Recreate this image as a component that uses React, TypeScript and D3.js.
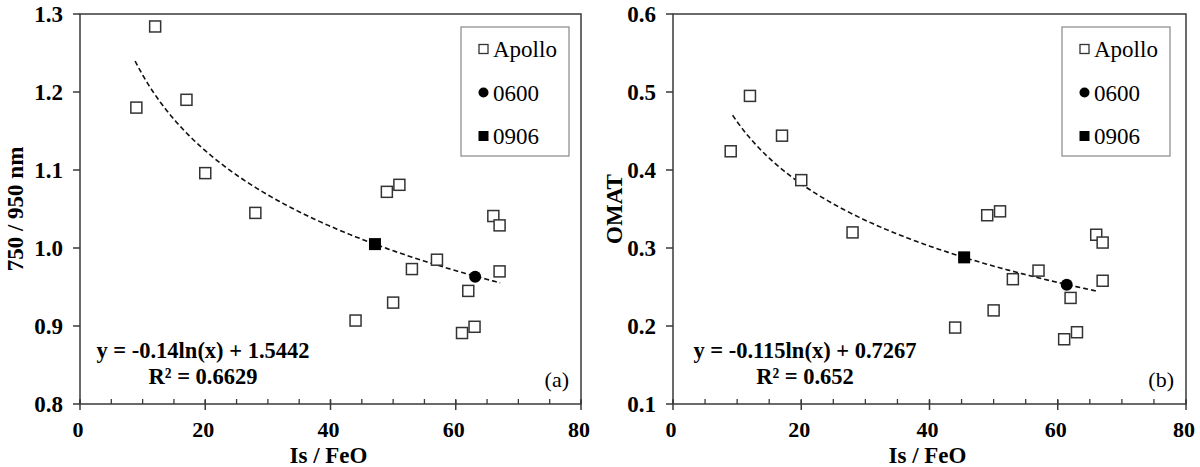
import React, { useEffect, useRef } from 'react';
import * as d3 from 'd3';

// Is/FeO of the Apollo samples (shared by both panels)
const apolloIs = [9, 12, 17, 20, 28, 44, 49, 50, 51, 53, 57, 61, 62, 63, 66, 67, 67];
const apolloRatio = [1.18, 1.284, 1.19, 1.096, 1.045, 0.907, 1.072, 0.93, 1.081, 0.973, 0.985, 0.891, 0.945, 0.899, 1.041, 1.029, 0.97];
const apolloOmat = [0.424, 0.495, 0.444, 0.387, 0.32, 0.198, 0.342, 0.22, 0.347, 0.26, 0.271, 0.183, 0.236, 0.192, 0.317, 0.307, 0.258];

// Chang'e points: [Is/FeO, value]
const site0600A = [63.1, 0.963];
const site0906A = [47.1, 1.005];
const site0600B = [61.4, 0.253];
const site0906B = [45.4, 0.288];

// log fits y = a ln(x) + b
const fitA = { a: -0.14, b: 1.5442, from: 8.8, to: 67.1 };
const fitB = { a: -0.115, b: 0.7267, from: 9.3, to: 66.1 };

const xTicks = [0, 20, 40, 60, 80];
const xMinorTicks = d3.range(0, 81, 5);
const yTicksA = [0.8, 0.9, 1.0, 1.1, 1.2, 1.3];
const yTicksB = [0.1, 0.2, 0.3, 0.4, 0.5, 0.6];

const legendLabels = ['Apollo', '0600', '0906'];

const FONT = '"Liberation Serif", "Times New Roman", serif';

const panels = [
  {
    left: 80, right: 581, yDomain: [0.8, 1.3], yTicks: yTicksA, yLabel: '750 / 950 nm',
    values: apolloRatio, p0600: site0600A, p0906: site0906A, fit: fitA,
    eq: ['y = -0.14ln(x) + 1.5442', 'R² = 0.6629'], eqX: 203, tag: '(a)',
    legendX: 461, titleX: 15,
  },
  {
    left: 673, right: 1186, yDomain: [0.1, 0.6], yTicks: yTicksB, yLabel: 'OMAT',
    values: apolloOmat, p0600: site0600B, p0906: site0906B, fit: fitB,
    eq: ['y = -0.115ln(x) + 0.7267', 'R² = 0.652'], eqX: 805, tag: '(b)',
    legendX: 1062, titleX: 614,
  },
];

const App = () => {
  const svgRef = useRef(null);

  useEffect(() => {
    const svg = d3.select(svgRef.current);
    svg.selectAll('*').remove();

    const top = 14;
    const bottom = 404;

    panels.forEach((p) => {
      const x = d3.scaleLinear().domain([0, 80]).range([p.left, p.right]);
      const y = d3.scaleLinear().domain(p.yDomain).range([bottom, top]);
      const g = svg.append('g');

      // plot frame
      g.append('rect')
        .attr('x', p.left).attr('y', top)
        .attr('width', p.right - p.left).attr('height', bottom - top)
        .attr('fill', 'none').attr('stroke', '#3a3a3a').attr('stroke-width', 1.5);

      // x minor ticks (inside)
      g.selectAll('.xminor').data(xMinorTicks).enter().append('line')
        .attr('x1', (d) => x(d)).attr('x2', (d) => x(d))
        .attr('y1', bottom - 5).attr('y2', bottom)
        .attr('stroke', '#3a3a3a').attr('stroke-width', 1.3);
      // x major ticks (cross)
      g.selectAll('.xmajor').data(xTicks).enter().append('line')
        .attr('x1', (d) => x(d)).attr('x2', (d) => x(d))
        .attr('y1', bottom - 4).attr('y2', bottom + 6)
        .attr('stroke', '#3a3a3a').attr('stroke-width', 1.5);
      g.selectAll('.xlab').data(xTicks).enter().append('text')
        .attr('x', (d) => x(d) - 2).attr('y', 437)
        .attr('text-anchor', 'middle')
        .style('font-family', FONT).style('font-weight', 'bold').style('font-size', '22px')
        .text((d) => d);

      // y ticks (outside)
      g.selectAll('.ytick').data(p.yTicks).enter().append('line')
        .attr('x1', p.left - 7).attr('x2', p.left)
        .attr('y1', (d) => y(d)).attr('y2', (d) => y(d))
        .attr('stroke', '#3a3a3a').attr('stroke-width', 1.5);
      g.selectAll('.ylab').data(p.yTicks).enter().append('text')
        .attr('x', p.left - 17).attr('y', (d) => y(d))
        .attr('dy', '0.33em').attr('text-anchor', 'end')
        .style('font-family', FONT).style('font-weight', 'bold').style('font-size', '23px')
        .text((d) => d3.format('.1f')(d));

      // axis titles
      g.append('text')
        .attr('x', (p.left + p.right) / 2 - 2).attr('y', 463)
        .attr('text-anchor', 'middle')
        .style('font-family', FONT).style('font-weight', 'bold').style('font-size', '23px')
        .text('Is / FeO');
      g.append('text')
        .attr('transform', `translate(${p.titleX},${(top + bottom) / 2}) rotate(-90)`)
        .attr('dy', '0.35em').attr('text-anchor', 'middle')
        .style('font-family', FONT).style('font-weight', 'bold').style('font-size', '23px')
        .text(p.yLabel);

      // trend line
      const fitPts = d3.range(p.fit.from, p.fit.to, 0.25).concat([p.fit.to]);
      const line = d3.line()
        .x((d) => x(d))
        .y((d) => y(p.fit.a * Math.log(d) + p.fit.b));
      g.append('path')
        .attr('d', line(fitPts))
        .attr('fill', 'none').attr('stroke', '#111')
        .attr('stroke-width', 1.6).attr('stroke-dasharray', '5,3');

      // Apollo hollow squares
      const s = 11;
      g.selectAll('.apollo').data(apolloIs).enter().append('rect')
        .attr('x', (d) => x(d) - s / 2)
        .attr('y', (d, i) => y(p.values[i]) - s / 2)
        .attr('width', s).attr('height', s)
        .attr('fill', '#fff').attr('stroke', '#333').attr('stroke-width', 1.5);

      // 0906 filled square
      g.append('rect')
        .attr('x', x(p.p0906[0]) - 6).attr('y', y(p.p0906[1]) - 6)
        .attr('width', 12).attr('height', 12).attr('fill', '#000');
      // 0600 filled circle
      g.append('circle')
        .attr('cx', x(p.p0600[0])).attr('cy', y(p.p0600[1])).attr('r', 6)
        .attr('fill', '#000');

      // equation
      p.eq.forEach((t, i) => {
        g.append('text')
          .attr('x', p.eqX).attr('y', 358 + i * 26)
          .attr('text-anchor', 'middle')
          .style('font-family', FONT).style('font-weight', 'bold').style('font-size', '22.5px')
          .text(t);
      });
      g.append('text')
        .attr('x', p.right - 12).attr('y', 387)
        .attr('text-anchor', 'end')
        .style('font-family', FONT).style('font-size', '22px')
        .text(p.tag);

      // legend
      const lg = g.append('g').attr('transform', `translate(${p.legendX},27)`);
      lg.append('rect')
        .attr('width', 108).attr('height', 129)
        .attr('fill', '#fff').attr('stroke', '#888').attr('stroke-width', 1.2);
      legendLabels.forEach((lab, i) => {
        const cy = 22 + i * 43.5;
        if (i === 0) {
          lg.append('rect').attr('x', 18).attr('y', cy - 4.5).attr('width', 9).attr('height', 9)
            .attr('fill', '#fff').attr('stroke', '#333').attr('stroke-width', 1.3);
        } else if (i === 1) {
          lg.append('circle').attr('cx', 22.5).attr('cy', cy).attr('r', 5).attr('fill', '#000');
        } else {
          lg.append('rect').attr('x', 17.5).attr('y', cy - 5).attr('width', 10).attr('height', 10)
            .attr('fill', '#000');
        }
        lg.append('text')
          .attr('x', 32).attr('y', cy).attr('dy', '0.35em')
          .style('font-family', FONT).style('font-size', '23px')
          .text(lab);
      });
    });
  }, []);

  return (
    <svg
      ref={svgRef}
      width={1200}
      height={467}
      style={{ position: 'absolute', left: 0, top: 0, background: '#fff' }}
    />
  );
};

export default App;
